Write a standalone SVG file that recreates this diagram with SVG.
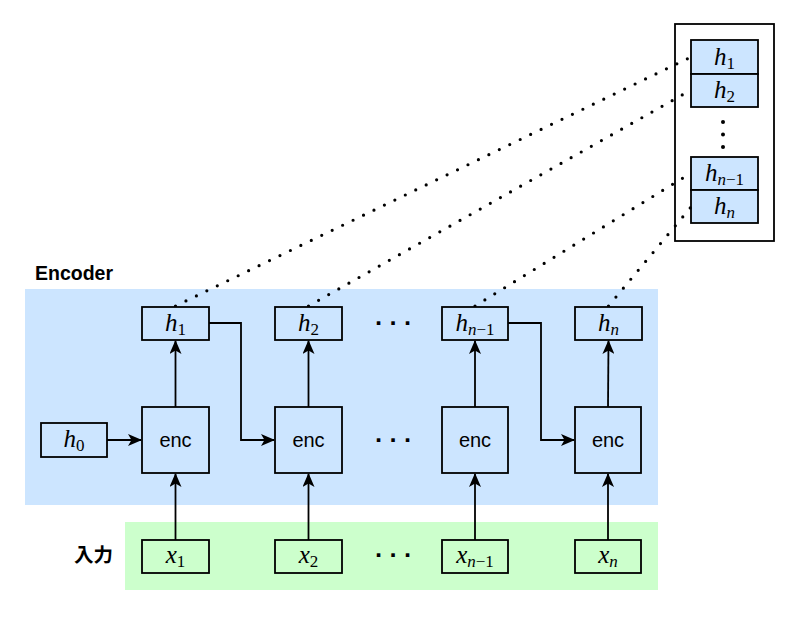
<svg xmlns="http://www.w3.org/2000/svg" width="800" height="617" viewBox="0 0 800 617">
<style>
.bx{fill:#cce5ff;stroke:#000;stroke-width:1.8}
.gx{fill:#ccffcc;stroke:#000;stroke-width:1.8}
.ln{fill:none;stroke:#000;stroke-width:1.8}
.dot{fill:none;stroke:#000;stroke-width:3.2;stroke-linecap:round;stroke-dasharray:0 11.6}
.m{font-family:"Liberation Serif","DejaVu Serif",serif;font-size:25px;text-anchor:middle}
.m .v{font-style:italic}
.m .s{font-size:17px}
.enc{font-family:"Liberation Sans",Arial,sans-serif;font-size:20px;text-anchor:middle}
.lbl{font-family:"Liberation Sans","Noto Sans CJK JP",sans-serif;font-size:19.5px;font-weight:bold}
.el{font-family:"DejaVu Sans",sans-serif;font-size:20px;font-weight:bold;text-anchor:middle}
</style>
<defs>
<marker id="ar" markerWidth="14" markerHeight="12" refX="13" refY="6" orient="auto" markerUnits="userSpaceOnUse">
<path d="M0,0 L14,6 L0,12 L3.5,6 z" fill="#000"/>
</marker>
</defs>
<rect x="0" y="0" width="800" height="617" fill="#fff"/>
<g id="encoder-region">
<rect x="25" y="289" width="633" height="216" fill="#cce5ff"/>
<text class="lbl" x="35" y="280">Encoder</text>
</g>
<g id="input-region">
<rect x="125" y="522" width="533" height="68" fill="#ccffcc"/>
<text class="lbl" x="74" y="562">入力</text>
</g>
<g id="memory">
<rect x="675" y="24" width="99" height="217" fill="#fff" stroke="#000" stroke-width="1.8"/>
<g id="m-h1"><rect class="bx" x="691" y="40" width="67" height="34"/><text class="m" x="724.5" y="65"><tspan class="v">h</tspan><tspan class="s" dy="4">1</tspan></text></g>
<g id="m-h2"><rect class="bx" x="691" y="74" width="67" height="33"/><text class="m" x="724.5" y="98"><tspan class="v">h</tspan><tspan class="s" dy="4">2</tspan></text></g>
<g id="m-vdots"><circle cx="723" cy="122" r="2"/><circle cx="723" cy="134.5" r="2"/><circle cx="723" cy="147" r="2"/></g>
<g id="m-hn1"><rect class="bx" x="691" y="157" width="67" height="33"/><text class="m" x="724.5" y="181"><tspan class="v">h</tspan><tspan class="s v" dy="4">n</tspan><tspan class="s">−1</tspan></text></g>
<g id="m-hn"><rect class="bx" x="691" y="190" width="67" height="33"/><text class="m" x="724.5" y="214"><tspan class="v">h</tspan><tspan class="s v" dy="4">n</tspan></text></g>
</g>
<g id="connectors">
<path class="dot" d="M175.5,306 L691,57"/>
<path class="dot" d="M308.5,306 L691,90"/>
<path class="dot" d="M475,306 L691,173"/>
<path class="dot" d="M608.5,306 L691,207"/>
<path class="ln" d="M107,440 L141,440" marker-end="url(#ar)"/>
<path class="ln" d="M209,323 L241,323 L241,440 L274,440" marker-end="url(#ar)"/>
<path class="ln" d="M508,323 L541,323 L541,440 L574,440" marker-end="url(#ar)"/>
<path class="ln" d="M175.5,407 L175.5,341" marker-end="url(#ar)"/>
<path class="ln" d="M308.5,407 L308.5,341" marker-end="url(#ar)"/>
<path class="ln" d="M475,407 L475,341" marker-end="url(#ar)"/>
<path class="ln" d="M608,407 L608.5,341" marker-end="url(#ar)"/>
<path class="ln" d="M175.5,540 L175.5,474" marker-end="url(#ar)"/>
<path class="ln" d="M308.5,540 L308.5,474" marker-end="url(#ar)"/>
<path class="ln" d="M475,540 L475,474" marker-end="url(#ar)"/>
<path class="ln" d="M608,540 L608,474" marker-end="url(#ar)"/>
</g>
<g id="h0"><rect class="bx" x="41" y="423" width="66" height="34"/><text class="m" x="74" y="447"><tspan class="v">h</tspan><tspan class="s" dy="4">0</tspan></text></g>
<g id="h1"><rect class="bx" x="142" y="307" width="67" height="33"/><text class="m" x="175.5" y="331"><tspan class="v">h</tspan><tspan class="s" dy="4">1</tspan></text></g>
<g id="h2"><rect class="bx" x="275" y="307" width="67" height="33"/><text class="m" x="308.5" y="331"><tspan class="v">h</tspan><tspan class="s" dy="4">2</tspan></text></g>
<g id="hn1"><rect class="bx" x="442" y="307" width="66" height="33"/><text class="m" x="475" y="331"><tspan class="v">h</tspan><tspan class="s v" dy="4">n</tspan><tspan class="s">−1</tspan></text></g>
<g id="hn"><rect class="bx" x="575" y="307" width="67" height="33"/><text class="m" x="608.5" y="331"><tspan class="v">h</tspan><tspan class="s v" dy="4">n</tspan></text></g>
<g id="enc1"><rect class="bx" x="142" y="407" width="67" height="66"/><text class="enc" x="175.5" y="447">enc</text></g>
<g id="enc2"><rect class="bx" x="275" y="407" width="67" height="66"/><text class="enc" x="308.5" y="447">enc</text></g>
<g id="encn1"><rect class="bx" x="442" y="407" width="66" height="66"/><text class="enc" x="475" y="447">enc</text></g>
<g id="encn"><rect class="bx" x="575" y="407" width="66" height="66"/><text class="enc" x="608" y="447">enc</text></g>
<g id="x1"><rect class="gx" x="142" y="540" width="67" height="33"/><text class="m" x="175.5" y="563"><tspan class="v">x</tspan><tspan class="s" dy="4">1</tspan></text></g>
<g id="x2"><rect class="gx" x="275" y="540" width="67" height="33"/><text class="m" x="308.5" y="563"><tspan class="v">x</tspan><tspan class="s" dy="4">2</tspan></text></g>
<g id="xn1"><rect class="gx" x="442" y="540" width="66" height="33"/><text class="m" x="475" y="563"><tspan class="v">x</tspan><tspan class="s v" dy="4">n</tspan><tspan class="s">−1</tspan></text></g>
<g id="xn"><rect class="gx" x="575" y="540" width="66" height="33"/><text class="m" x="608" y="563"><tspan class="v">x</tspan><tspan class="s v" dy="4">n</tspan></text></g>
<g id="ellipses">
<text class="el" x="393" y="330">· · ·</text>
<text class="el" x="393" y="447">· · ·</text>
<text class="el" x="393" y="562">· · ·</text>
</g>
</svg>
